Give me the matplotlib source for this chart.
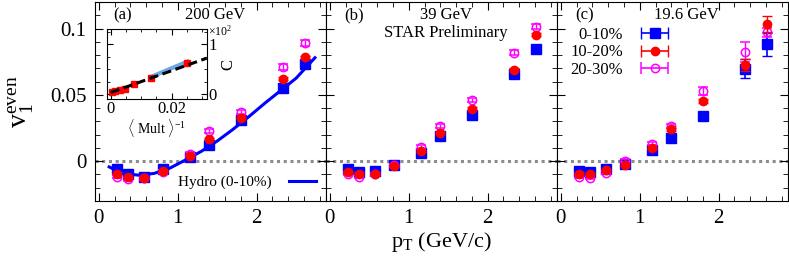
import matplotlib

matplotlib.use("Agg")

import matplotlib.pyplot as plt
import numpy as np
from matplotlib.container import ErrorbarContainer
from matplotlib.legend_handler import HandlerErrorbar
from matplotlib.ticker import MultipleLocator

plt.rcParams["font.family"] = ["Liberation Serif", "DejaVu Serif"]
plt.rcParams["mathtext.fontset"] = "custom"
plt.rcParams["mathtext.rm"] = "Liberation Serif"
plt.rcParams["mathtext.it"] = "Liberation Serif:italic"

# pT bin centres (GeV/c)
pt = [0.23, 0.37, 0.57, 0.81, 1.15, 1.40, 1.80, 2.34, 2.61]

# 200 GeV
a_0_10 = [-0.0062, -0.0098, -0.0118, -0.0055, 0.0028, 0.0120, 0.0308, 0.0554, 0.0734]
a_10_20 = [-0.0093, -0.0118, -0.0123, -0.0073, 0.0040, 0.0170, 0.0328, 0.0622, 0.0784]
a_20_30 = [-0.0118, -0.0135, -0.0128, -0.0080, 0.0055, 0.0226, 0.0370, 0.0709, 0.0890]
# 39 GeV
b_0_10 = [-0.0060, -0.0080, -0.0075, -0.0030, 0.0063, 0.0188, 0.0351, 0.0654, 0.0847]
b_10_20 = [-0.0080, -0.0093, -0.0093, -0.0035, 0.0078, 0.0213, 0.0396, 0.0689, 0.0952]
b_20_30 = [-0.0093, -0.0118, -0.0098, -0.0030, 0.0108, 0.0263, 0.0459, 0.0817, 0.1015]
# 19.6 GeV
c_0_10 = [-0.0073, -0.0080, -0.0055, -0.0023, 0.0083, 0.0178, 0.0338, 0.0697, 0.0880]
c_10_20 = [-0.0093, -0.0098, -0.0068, -0.0025, 0.0100, 0.0241, 0.0454, 0.0722, 0.1035]
c_20_30 = [-0.0118, -0.0125, -0.0088, 0.0003, 0.0133, 0.0263, 0.0529, 0.0822, 0.0972]

err_hidden = [0.0008, 0.0008, 0.0008, 0.0008, 0.0008, 0.0008, 0.001, 0.0012, 0.0012]
err_pink = [0.0012, 0.0012, 0.0012, 0.0012, 0.0014, 0.0015, 0.0016, 0.002, 0.002]
c_err_0_10 = [0.0008, 0.0008, 0.0008, 0.0008, 0.0008, 0.0010, 0.0012, 0.0070, 0.0088]
c_err_10_20 = [0.0008, 0.0008, 0.0008, 0.0008, 0.0008, 0.0010, 0.0012, 0.0045, 0.0063]
c_err_20_30 = [0.0012, 0.0012, 0.0012, 0.0012, 0.0014, 0.0015, 0.0030, 0.0075, 0.0035]

# hydro (0-10%) at 200 GeV
hydro_pt = [0.13, 0.3, 0.5, 0.7, 0.9, 1.1, 1.3, 1.5, 1.7, 1.9, 2.1, 2.3, 2.5, 2.74]
hydro_v1 = [-0.0043, -0.0092, -0.0105, -0.0092, -0.0052, 0.0010, 0.0075, 0.0152,
            0.0240, 0.0335, 0.0435, 0.0530, 0.0625, 0.0780]

# inset: C vs <Mult>^-1
inv_mult = [0.0004, 0.0014, 0.0030, 0.0047, 0.0077, 0.0131, 0.0251]
c_coef = [0.04, 0.07, 0.09, 0.11, 0.20, 0.32, 0.63]
fit_x = [0.0, 0.0315]
fit_y = [0.03, 0.72]
blue_fit_x = [0.0131, 0.0251]
blue_fit_y = [0.34, 0.65]

panels = [
    ("(a)", "200 GeV", 0.52, a_0_10, a_10_20, a_20_30, err_hidden, err_hidden, err_pink),
    ("(b)", "39 GeV", 0.52, b_0_10, b_10_20, b_20_30, err_hidden, err_hidden, err_pink),
    ("(c)", "19.6 GeV", 0.56, c_0_10, c_10_20, c_20_30, c_err_0_10, c_err_10_20, c_err_20_30),
]

fig, axes = plt.subplots(1, 3, figsize=(7.89, 2.59), dpi=100, sharey=True)
fig.subplots_adjust(left=0.1204, right=0.9987, bottom=0.2239, top=0.9923, wspace=0)

for ax, (tag, energy, ex, y0, y1, y2, e0, e1, e2) in zip(axes, panels):
    ax.axhline(0, color="#8c8c8c", ls=(0, (1, 1.2)), lw=2.2, zorder=1)
    ax.errorbar(pt, y2, yerr=e2, fmt="o", color="magenta", mfc="none", ms=6,
                mew=1.1, elinewidth=1, capsize=3.5, zorder=3)
    ax.errorbar(pt, y1, yerr=e1, fmt="o", color="red", ms=6,
                elinewidth=1, capsize=3.5, zorder=4)
    ax.errorbar(pt, y0, yerr=e0, fmt="s", color="blue", ms=6.5,
                elinewidth=1.2, capsize=3.5, zorder=2)
    ax.text(0.12, 0.935, tag, transform=ax.transAxes, ha="center", va="center", fontsize=12)
    ax.text(ex, 0.935, energy, transform=ax.transAxes, ha="center", va="center", fontsize=12)
    ax.set_xlim(-0.05, 2.88)
    ax.set_ylim(-0.03, 0.12)
    ax.xaxis.set_major_locator(MultipleLocator(1))
    ax.xaxis.set_minor_locator(MultipleLocator(0.2))
    ax.yaxis.set_major_locator(MultipleLocator(0.05))
    ax.yaxis.set_minor_locator(MultipleLocator(0.01))
    ax.tick_params(which="both", direction="in", top=True, right=True, labelsize=15, pad=6)
    ax.tick_params(which="major", length=6)
    ax.tick_params(which="minor", length=3.5)
    ax.set_xticks([0, 1, 2])
    ax.set_xticklabels(["0", "1", "2"])

axes[0].set_yticks([0, 0.05, 0.1])
axes[0].set_yticklabels(["0", "0.05", "0.1"])
axes[0].set_ylabel(r"$\mathrm{v}_1^{\mathrm{even}}$", fontsize=20, labelpad=10)
axes[1].set_xlabel(r"$\mathrm{p}_\mathrm{T}$ (GeV/c)", fontsize=16, labelpad=1)
axes[1].text(0.52, 0.845, "STAR Preliminary", transform=axes[1].transAxes,
             ha="center", va="center", fontsize=12)

hydro, = axes[0].plot(hydro_pt, hydro_v1, color="blue", lw=2.2, zorder=2)
axes[0].legend([hydro], ["Hydro (0-10%)"], loc="center right", markerfirst=False,
               frameon=False, fontsize=11, handlelength=1.75, handletextpad=1.1,
               borderpad=0, borderaxespad=0, bbox_to_anchor=(0.955, 0.095))

# legend proxies with horizontal bars
h0 = axes[2].errorbar(np.nan, np.nan, xerr=1, fmt="s", color="blue", ms=6.5, capsize=4, elinewidth=1.2)
h1 = axes[2].errorbar(np.nan, np.nan, xerr=1, fmt="o", color="red", ms=6, capsize=4, elinewidth=1.2)
h2 = axes[2].errorbar(np.nan, np.nan, xerr=1, fmt="o", color="magenta", mfc="none", ms=6,
                      mew=1.1, capsize=4, elinewidth=1.2)
axes[2].legend([h0, h1, h2], ["0-10%", "10-20%", "20-30%"], loc="upper right",
               bbox_to_anchor=(0.48, 0.874), markerfirst=False, frameon=False,
               fontsize=12, handlelength=1.6, handletextpad=1.1, labelspacing=0.08,
               borderpad=0, borderaxespad=0,
               handler_map={ErrorbarContainer: HandlerErrorbar(xerr_size=0.8)})

# inset
ins = fig.add_axes([106.7 / 789, 1 - 99 / 259, 100 / 789, 69.7 / 259])
ins.plot(blue_fit_x, blue_fit_y, color="#6fa8e8", lw=3, zorder=1)
ins.plot(inv_mult, c_coef, "s", color="red", ms=4.5, zorder=2)
ins.plot(fit_x, fit_y, color="black", ls=(0, (3, 1.5)), lw=2.2, zorder=3)
ins.set_xlim(-0.0013, 0.0315)
ins.set_ylim(-0.1, 1.3)
ins.xaxis.set_minor_locator(MultipleLocator(0.005))
ins.yaxis.set_minor_locator(MultipleLocator(0.25))
ins.set_xticks([0, 0.02])
ins.set_xticklabels(["0", "0.02"])
ins.set_yticks([0, 1])
ins.set_yticklabels(["0", "1"])
ins.tick_params(which="both", direction="in", top=True, left=True, right=True,
                labelleft=False, labelright=True, labelsize=12, pad=1.5)
ins.tick_params(which="major", length=4)
ins.tick_params(which="minor", length=2)
ins.yaxis.set_label_position("right")
ins.set_ylabel("C", fontsize=12, labelpad=2)
ins.set_xlabel(r"$\langle$ Mult $\rangle^{-1}$", fontsize=10, labelpad=0)
ins.text(1.01, 0.975, r"$\times10^{2}$", transform=ins.transAxes, ha="left", va="center", fontsize=8.5)

fig.savefig("out.png", dpi=100)
